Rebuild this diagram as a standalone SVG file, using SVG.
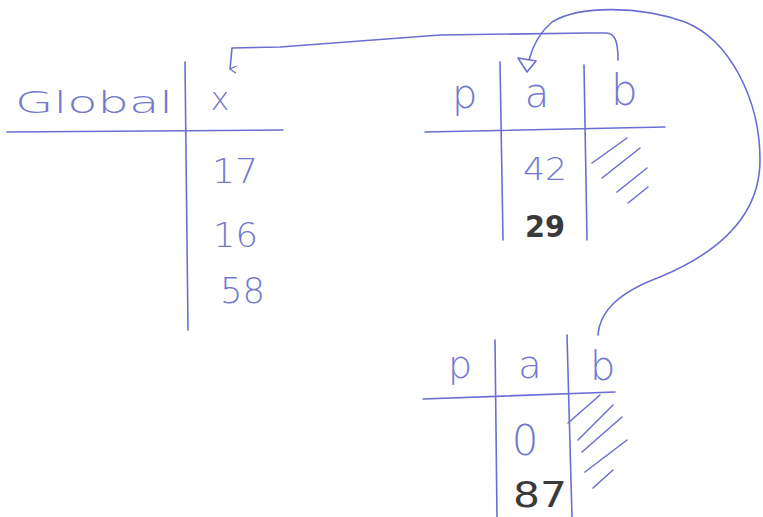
<svg xmlns="http://www.w3.org/2000/svg" width="763" height="517" viewBox="0 0 763 517">
<defs>
<style>
.ln{fill:none;stroke:#6a6ed2;stroke-width:1.6;stroke-linecap:round;stroke-linejoin:round}
.ht{fill:none;stroke:#6a6ed2;stroke-width:1.5;stroke-linecap:round}
.t{font-family:"DejaVu Sans","Liberation Sans",sans-serif;fill:#7478cf;font-weight:200}
.k{font-family:"DejaVu Sans","Liberation Sans",sans-serif;fill:#3a3a3a}
</style>
<marker id="small" viewBox="0 0 10 10" refX="5" refY="9" markerWidth="9" markerHeight="9" orient="auto-start-reverse" markerUnits="userSpaceOnUse">
<path d="M1,2 L5,9 L9,2" fill="none" stroke="#6a6ed2" stroke-width="1.4"/>
</marker>
</defs>
<rect width="763" height="517" fill="#ffffff"/>

<g id="global">
<line class="ln" x1="7" y1="132" x2="283" y2="130"/>
<line class="ln" x1="185" y1="62" x2="188" y2="330"/>
<text class="t" x="15" y="113" font-size="30" textLength="158" lengthAdjust="spacingAndGlyphs">Global</text>
<text class="t" x="220" y="110" font-size="32" text-anchor="middle">x</text>
<text class="t" x="212" y="183" font-size="33" textLength="46" lengthAdjust="spacingAndGlyphs">17</text>
<text class="t" x="213" y="247" font-size="33" textLength="45" lengthAdjust="spacingAndGlyphs">16</text>
<text class="t" x="220" y="303" font-size="36" textLength="45" lengthAdjust="spacingAndGlyphs">58</text>
</g>

<g id="frame1">
<line class="ln" x1="425" y1="132" x2="665" y2="127"/>
<line class="ln" x1="500" y1="62" x2="503" y2="240"/>
<line class="ln" x1="584" y1="65" x2="587" y2="240"/>
<text class="t" x="452" y="108" font-size="40">p</text>
<text class="t" x="537" y="107" font-size="40" text-anchor="middle">a</text>
<text class="t" x="611" y="105" font-size="42">b</text>
<text class="t" x="545" y="180" font-size="32" text-anchor="middle" textLength="44" lengthAdjust="spacingAndGlyphs">42</text>
<text class="k" x="545" y="237" font-size="30" font-weight="bold" text-anchor="middle" textLength="40" lengthAdjust="spacingAndGlyphs">29</text>
<line class="ht" x1="592" y1="163" x2="627" y2="138"/>
<line class="ht" x1="602" y1="178" x2="640" y2="148"/>
<line class="ht" x1="617" y1="192" x2="647" y2="168"/>
<line class="ht" x1="628" y1="203" x2="648" y2="187"/>
</g>

<g id="frame2">
<line class="ln" x1="423" y1="399" x2="615" y2="392"/>
<line class="ln" x1="495" y1="340" x2="497" y2="517"/>
<line class="ln" x1="567" y1="335" x2="572" y2="517"/>
<text class="t" x="448" y="378" font-size="38">p</text>
<text class="t" x="530" y="378" font-size="38" text-anchor="middle">a</text>
<text class="t" x="590" y="380" font-size="40">b</text>
<text class="t" x="525" y="455" font-size="42" text-anchor="middle">0</text>
<text class="k" x="540" y="507" font-size="36" text-anchor="middle" textLength="54" lengthAdjust="spacingAndGlyphs">87</text>
<line class="ht" x1="568" y1="423" x2="600" y2="395"/>
<line class="ht" x1="578" y1="440" x2="613" y2="405"/>
<line class="ht" x1="582" y1="452" x2="622" y2="417"/>
<line class="ht" x1="585" y1="472" x2="627" y2="440"/>
<line class="ht" x1="593" y1="488" x2="613" y2="470"/>
</g>

<g id="connectors">
<path class="ln" d="M618,60 C618,44 616,33 606,33 L588,33 L440,35 L280,47 L232,48 L230,69" marker-end="url(#small)"/>
<path class="ln" d="M598,335 C600,310 620,292 660,277 C720,252 760,215 760,160 C760,100 730,40 685,22 C640,6 580,5 552,22 C540,32 533,45 529,60"/>
<polygon points="518,58 536,61 527,72" fill="#ffffff" stroke="#6a6ed2" stroke-width="1.6" stroke-linejoin="round"/>
</g>
</svg>
